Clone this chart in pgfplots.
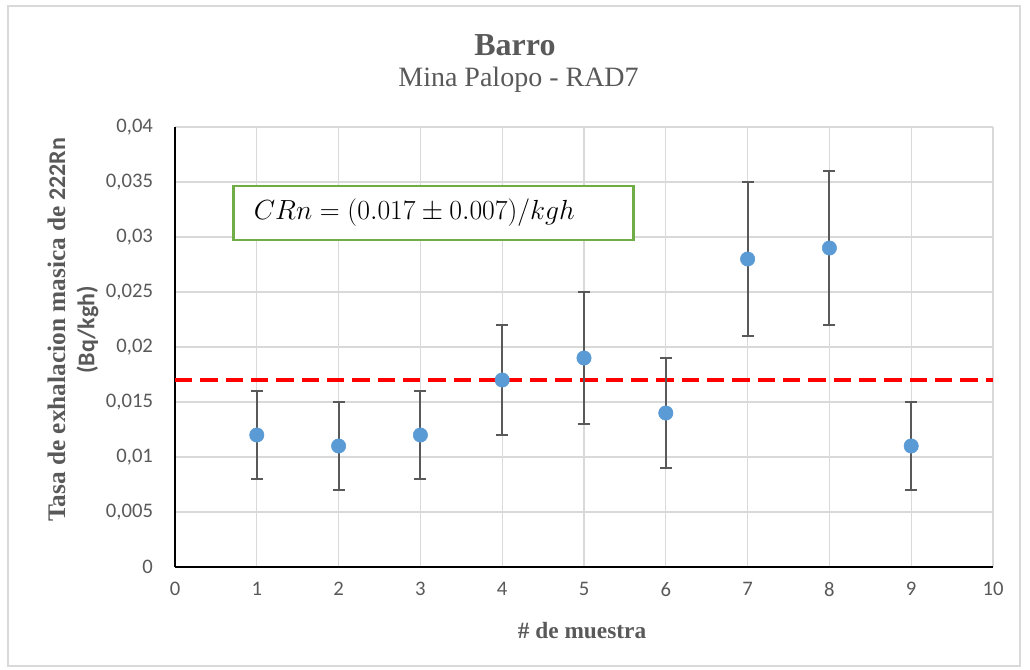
\documentclass[border=0pt]{standalone}
\usepackage{fontspec}
\setmainfont{Carlito}
\newfontfamily\tnr{Liberation Serif}
\usepackage{pgfplots}
\pgfplotsset{compat=1.18}
\definecolor{txt}{HTML}{595959}
\definecolor{gridc}{HTML}{D9D9D9}
\definecolor{mblue}{HTML}{5B9BD5}
\definecolor{mgreen}{HTML}{70AD47}
\begin{document}
\begin{tikzpicture}
\begin{axis}[
  at={(0,0)}, anchor=south west,
  scale only axis, width=613.5pt, height=330pt,
  xmin=0, xmax=10, ymin=0, ymax=0.04,
  xtick={0,1,...,10},
  ytick={0,0.005,0.01,0.015,0.02,0.025,0.03,0.035,0.04},
  scaled y ticks=false,
  /pgf/number format/.cd, fixed, precision=3, use comma, assume math mode=true,
  /pgfplots/.cd,
  grid=major,
  major grid style={gridc, line width=0.9pt},
  major tick length=0pt,
  axis x line*=bottom, axis y line*=left,
  axis line style={-, black, line width=1.6pt},
  tick label style={font=\fontsize{15.5}{18}\selectfont, text=txt},
  yticklabel style={xshift=-13pt},
  xticklabel style={yshift=-8pt},
  clip=false,
]
\addplot[red, line width=3.2pt, dash pattern=on 13pt off 6pt] coordinates {(0,0.017) (10,0.017)};
\addplot[only marks, mark=*, mark size=5.4pt, mark options={fill=mblue, draw=mblue},
  error bars/.cd, y dir=both, y explicit,
  error bar style={txt, line width=1.4pt},
  error mark options={rotate=90, mark size=4.5pt, line width=1.4pt, txt}]
  table[x=x, y=y, y error=e] {
x y e
1 0.012 0.004
2 0.011 0.004
3 0.012 0.004
4 0.017 0.005
5 0.019 0.006
6 0.014 0.005
7 0.028 0.007
8 0.029 0.007
9 0.011 0.004
};
\node[draw=mgreen, line width=2.2pt, fill=white, minimum width=300pt, minimum height=40.5pt,
  text width=270pt, align=left, inner xsep=15pt]
  at (axis cs:3.165,0.03218) {\fontsize{20}{22}\selectfont $CRn = (0.017 \pm 0.007)/kgh$};
\node[text=txt, font=\tnr\bfseries\fontsize{24}{28}\selectfont] at (rel axis cs:0.4156,1.186) {Barro};
\node[text=txt, font=\tnr\fontsize{21}{25}\selectfont] at (rel axis cs:0.42,1.107) {Mina Palopo - RAD7};
\node[text=txt, font=\tnr\bfseries\fontsize{17.5}{20}\selectfont] at (rel axis cs:0.4976,-0.145) {\# de muestra};
\node[text=txt, rotate=90, align=center, font=\bfseries\fontsize{18}{22}\selectfont] at (rel axis cs:-0.1247,0.539)
  {{\tnr\fontsize{19}{22}\selectfont Tasa de exhalacion masica de} 222Rn\\(Bq/kgh)};
\end{axis}
\draw[gridc, line width=1.5pt] (-125.25pt,-74.25pt) rectangle (633.75pt,420.75pt);
\pgfresetboundingbox
\path[use as bounding box] (-131.25pt,-76.5pt) rectangle (641.25pt,425.25pt);
\end{tikzpicture}
\end{document}
